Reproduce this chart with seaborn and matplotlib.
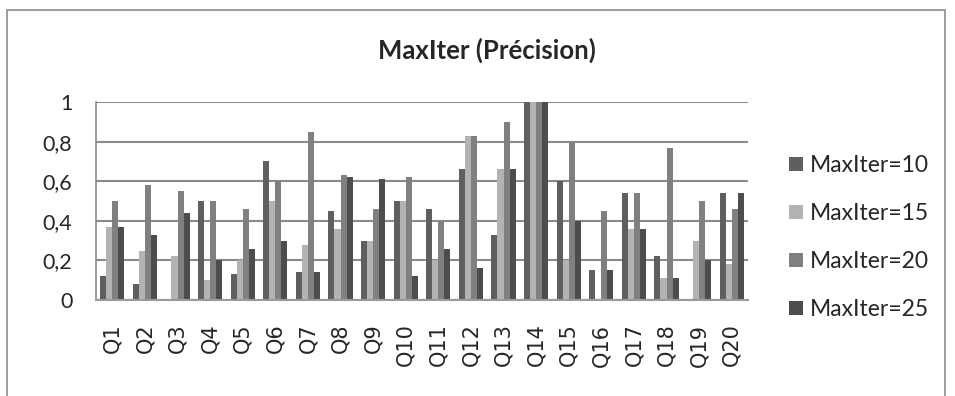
import matplotlib
matplotlib.use("Agg")
import matplotlib.pyplot as plt
import seaborn as sns
import pandas as pd
from matplotlib.patches import Rectangle
from matplotlib.ticker import FuncFormatter

categories = [f"Q{i}" for i in range(1, 21)]
series_names = ["MaxIter=10", "MaxIter=15", "MaxIter=20", "MaxIter=25"]
maxiter_10 = [0.12, 0.08, 0.0, 0.5, 0.13, 0.70, 0.14, 0.45, 0.30, 0.5,
              0.46, 0.66, 0.33, 1.0, 0.6, 0.15, 0.54, 0.22, 0.0, 0.54]
maxiter_15 = [0.37, 0.25, 0.22, 0.10, 0.2, 0.5, 0.28, 0.36, 0.30, 0.5,
              0.2, 0.83, 0.66, 1.0, 0.2, 0.0, 0.36, 0.11, 0.30, 0.18]
maxiter_20 = [0.5, 0.58, 0.55, 0.5, 0.46, 0.6, 0.85, 0.63, 0.46, 0.62,
              0.4, 0.83, 0.9, 1.0, 0.8, 0.45, 0.54, 0.77, 0.5, 0.46]
maxiter_25 = [0.37, 0.33, 0.44, 0.2, 0.26, 0.30, 0.14, 0.62, 0.61, 0.12,
              0.26, 0.16, 0.66, 1.0, 0.4, 0.15, 0.36, 0.11, 0.2, 0.54]
y_ticks = [0, 0.2, 0.4, 0.6, 0.8, 1]

colors = ["#5f5f5f", "#b3b3b3", "#808080", "#4d4d4d"]

rows = []
for name, vals in zip(series_names, [maxiter_10, maxiter_15, maxiter_20, maxiter_25]):
    for c, v in zip(categories, vals):
        rows.append({"Question": c, "Serie": name, "Valeur": v})
df = pd.DataFrame(rows)

sns.set_style("white")
plt.rcParams["font.family"] = ["Lato", "DejaVu Sans"]

fig = plt.figure(figsize=(9.55, 3.96), dpi=100)
ax = fig.add_axes([96/955, 1-300/396, (748-96)/955, (300-102)/396])

sns.barplot(data=df, x="Question", y="Valeur", hue="Serie", order=categories,
            hue_order=series_names, palette=colors, width=0.74, gap=0,
            saturation=1, linewidth=0, ax=ax, legend=True)

ax.set_ylim(0, 1)
ax.set_xlim(-0.5, 19.5)
ax.set_yticks(y_ticks)
ax.yaxis.set_major_formatter(FuncFormatter(lambda v, p: ("%g" % v).replace(".", ",")))
ax.grid(axis="y", color="#8a8a8a", linewidth=1.5)
ax.set_axisbelow(True)
for s in ["top", "right"]:
    ax.spines[s].set_visible(False)
ax.spines["left"].set_color("#8a8a8a")
ax.spines["bottom"].set_color("#9a9a9a")
ax.spines["left"].set_linewidth(1.2)
ax.spines["bottom"].set_linewidth(1.5)
ax.tick_params(axis="y", length=0, pad=17, labelsize=15.5)
ax.tick_params(axis="x", length=0, pad=17, labelsize=15, rotation=90)
for lab in ax.get_xticklabels():
    lab.set_fontfamily(["DejaVu Sans"])
ax.set_xlabel("")
ax.set_ylabel("")

fig.text(487/955, 1-50/396, "MaxIter (Précision)", ha="center", va="center",
         fontsize=18.5, fontweight="bold")

handles, labels = ax.get_legend_handles_labels()
ax.legend(handles, labels, loc="upper left", bbox_to_anchor=(789/955, 1-155/396),
          bbox_transform=fig.transFigure,
          frameon=False, fontsize=16.5, handlelength=0.62, handleheight=0.62,
          handletextpad=0.3, labelspacing=1.18, borderaxespad=0, borderpad=0)

fig.patches.append(Rectangle((7/955, -0.2), (945-7)/955, 1.2 - 10/396,
                             transform=fig.transFigure, fill=False,
                             edgecolor="#8c8c8c", linewidth=1.2))

fig.savefig("out.png", dpi=100)
